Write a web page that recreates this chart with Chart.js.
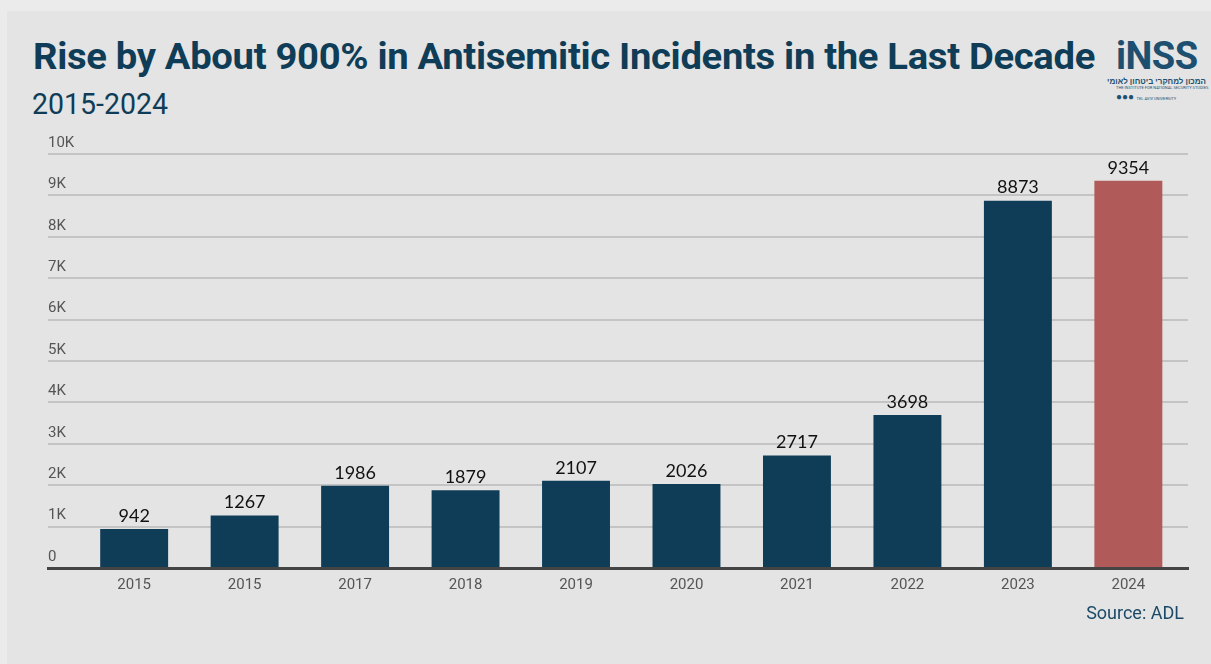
<!DOCTYPE html>
<html lang="en">
<head>
  <meta charset="UTF-8" />
  <title>Rise in Antisemitic Incidents</title>
  <script src="https://cdn.jsdelivr.net/npm/chart.js"></script>
  <style>
    body { margin: 0; width: 1211px; height: 664px; background: #ebebeb; font-family: Roboto, sans-serif; overflow: hidden; position: relative; }
    .panel { position: absolute; left: 7px; top: 11px; width: 1204px; height: 653px; background: #e4e4e4; }
    .title { position: absolute; left: 33px; top: 36px; font: 700 36px Roboto, sans-serif; color: #0f3d57; white-space: nowrap; transform-origin: left top; letter-spacing: -0.3px; }
    .subtitle { position: absolute; left: 32px; top: 86px; font: 400 30px Roboto, sans-serif; color: #0f3d57; transform: scaleX(0.95); transform-origin: left top; }
    .logo { position: absolute; left: 1116px; top: 36px; width: 90px; color: #1d5070; }
    .logo .big { font: 700 38px Roboto, sans-serif; letter-spacing: -0.5px; line-height: 40px; }
    .logo .he { font: 600 8px "Noto Sans", sans-serif; direction: rtl; text-align: right; line-height: 9px; white-space: nowrap; }
    .logo .en { font: 400 4px Roboto, sans-serif; line-height: 6px; white-space: nowrap; }
    .logo .dots { font: 700 10px Roboto, sans-serif; line-height: 11px; }
    .source { position: absolute; right: 27px; top: 602px; font: 400 18px Roboto, sans-serif; color: #1b4a68; }
    .chart-box { position: absolute; left: 0; top: 130px; width: 1211px; height: 480px; }
  </style>
</head>
<body>
  <div class="panel"></div>
  <div class="title" id="title">Rise by About 900% in Antisemitic Incidents in the Last Decade</div>
  <div class="subtitle">2015-2024</div>
  <div class="logo">
    <div class="big">iNSS</div>
    <div class="he">המכון למחקרי ביטחון לאומי</div>
    <div class="en">THE INSTITUTE FOR NATIONAL SECURITY STUDIES</div>
    <div class="dots">●●● <span style="font-size:4px;font-weight:400">TEL AVIV UNIVERSITY</span></div>
  </div>
  <div class="chart-box"><canvas id="incidentsChart"></canvas></div>
  <div class="source">Source: ADL</div>

  <script>
    // data (the second "2015" is as printed)
    const years = ['2015', '2015', '2017', '2018', '2019', '2020', '2021', '2022', '2023', '2024'];
    const incidents = [942, 1267, 1986, 1879, 2107, 2026, 2717, 3698, 8873, 9354];
    const yTicks = [0, 1000, 2000, 3000, 4000, 5000, 6000, 7000, 8000, 9000, 10000];

    const navy = '#0f3d57';
    const red = '#b05a5a';

    // squeeze the title to the width it has in the picture
    const titleEl = document.getElementById('title');
    const tw = titleEl.getBoundingClientRect().width;
    titleEl.style.transform = `scaleX(${1062 / tw})`;

    const valueLabels = {
      id: 'valueLabels',
      afterDatasetsDraw(chart) {
        const ctx = chart.ctx;
        const meta = chart.getDatasetMeta(0);
        ctx.save();
        ctx.font = '18px Lato, sans-serif';
        ctx.fillStyle = '#111';
        ctx.textAlign = 'center';
        ctx.textBaseline = 'bottom';
        meta.data.forEach((bar, i) => {
          ctx.fillText(String(incidents[i]), bar.x, bar.y - 4);
        });
        ctx.restore();
      }
    };

    const ctx = document.getElementById('incidentsChart').getContext('2d');
    new Chart(ctx, {
      type: 'bar',
      data: {
        datasets: [{
          data: incidents.map((v, i) => ({ x: i, y: v })),
          backgroundColor: incidents.map((v, i) => i === incidents.length - 1 ? red : navy),
          barPercentage: 0.615,
          categoryPercentage: 1
        }]
      },
      options: {
        responsive: true,
        maintainAspectRatio: false,
        animation: false,
        layout: { padding: { left: 48, right: 23, top: 24, bottom: 10 } },
        plugins: { legend: { display: false }, tooltip: { enabled: false } },
        scales: {
          x: {
            type: 'linear',
            offset: false,
            min: -0.78,
            max: 9.54,
            afterBuildTicks: s => { s.ticks = years.map((y, i) => ({ value: i })); },
            afterFit: s => { s.height = 32; },
            ticks: {
              autoSkip: false,
              maxRotation: 0,
              padding: 8,
              color: '#555',
              font: { family: 'Roboto', size: 15 },
              callback: v => years[v]
            },
            grid: { color: 'transparent', drawTicks: false, offset: false },
            border: { color: '#444', width: 3 }
          },
          y: {
            min: 0,
            max: 10000,
            afterBuildTicks: s => { s.ticks = yTicks.map(v => ({ value: v })); },
            afterFit: s => { s.width = 0; },
            ticks: {
              mirror: true,
              padding: 0,
              labelOffset: -11,
              color: '#555',
              font: { family: 'Roboto', size: 15 },
              callback: v => v === 0 ? '0' : (v / 1000) + 'K'
            },
            grid: {
              color: c => c.tick && c.tick.value === 0 ? 'transparent' : '#c4c4c4',
              lineWidth: 2,
              drawTicks: false
            },
            border: { display: false }
          }
        }
      },
      plugins: [valueLabels]
    });
  </script>
</body>
</html>
